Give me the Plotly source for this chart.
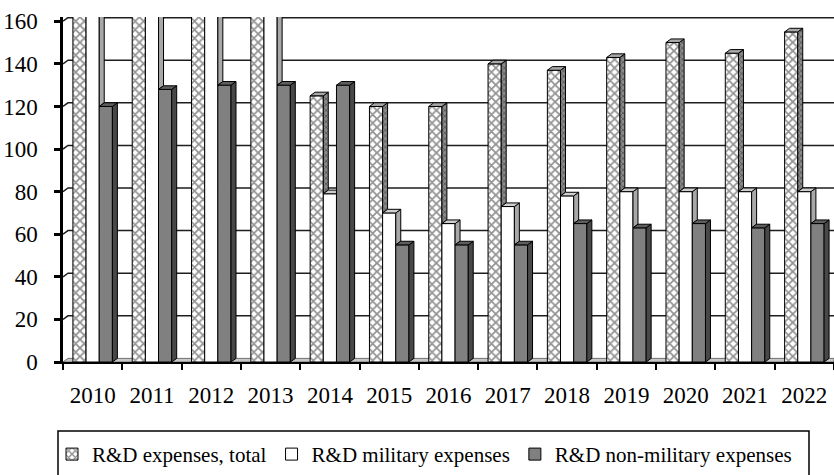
import plotly.graph_objects as go

# ---- data -------------------------------------------------------------
years = ["2010", "2011", "2012", "2013", "2014", "2015", "2016",
         "2017", "2018", "2019", "2020", "2021", "2022"]
total = [172, 178, 181, 176, 125, 120, 120, 140, 137, 143, 150, 145, 155]
military = [168, 170, 173, 171, 79, 70, 65, 73, 78, 80, 80, 80, 80]
non_military = [120, 128, 130, 130, 130, 55, 55, 55, 65, 63, 65, 63, 65]
series_names = ["R&D expenses, total", "R&D military expenses",
                "R&D non-military expenses"]
y_ticks = [0, 20, 40, 60, 80, 100, 120, 140, 160]

# ---- styling ----------------------------------------------------------
FONT = "Liberation Serif"
Y_TOP = 162            # a little head-room for the 3-D back wall
BAR_W = 0.222          # width of one front face, in category units
DX, DY = 0.084, 1.7    # depth offset of the 3-D faces (x units, y units)

front = ["white", "white", "#808080"]
side = ["#8a8a8a", "#a8a8a8", "#484848"]
top = ["#a8a8a8", "#cfcfcf", "#5e5e5e"]

series = [total, military, non_military]
n = len(years)
x_idx = list(range(n))
offsets = [-BAR_W, 0.0, BAR_W]

fig = go.Figure()

# front faces of the columns
for k, vals in enumerate(series):
    marker = dict(color=front[k], line=dict(color="black", width=1))
    if k == 0:
        marker["pattern"] = dict(shape="x", size=6, solidity=0.5,
                                 fgcolor="#262626", bgcolor="white")
    fig.add_trace(go.Bar(x=x_idx, y=vals, name=series_names[k],
                         marker=marker, hoverinfo="skip"))

# side and top faces, computed from the same values
for k, vals in enumerate(series):
    sx, sy, tx, ty = [], [], [], []
    for i in range(n):
        v = vals[i]
        xc = i + offsets[k]
        x0, x1 = xc - BAR_W / 2, xc + BAR_W / 2
        nxt = series[k + 1][i] if k < 2 else 0
        if nxt < v:
            sx += [x1, x1 + DX, x1 + DX, x1, x1, None]
            sy += [nxt, nxt + DY, v + DY, v, nxt, None]
            xr = x1 + DX
        else:
            xr = x1
        tx += [x0, x0 + DX, xr, x1, x0, None]
        ty += [v, v + DY, v + DY, v, v, None]
    side_kw = {}
    if k == 0:
        side_kw["fillpattern"] = dict(shape="x", size=4, solidity=0.4,
                                      fgcolor="#2a2a2a", bgcolor=side[k])
    fig.add_trace(go.Scatter(x=sx, y=sy, mode="lines", fill="toself",
                             fillcolor=side[k], line=dict(color="black", width=1),
                             showlegend=False, hoverinfo="skip", **side_kw))
    fig.add_trace(go.Scatter(x=tx, y=ty, mode="lines", fill="toself",
                             fillcolor=top[k], line=dict(color="black", width=1),
                             showlegend=False, hoverinfo="skip"))

# back-wall gridlines and the floor
x_lo, x_hi = -0.5, n - 0.5
shapes = []
shapes.append(dict(type="path", xref="x", yref="y", layer="below",
                   path=f"M {x_lo},0 L {x_lo + DX},{DY} L {x_hi},{DY} L {x_hi},0 Z",
                   fillcolor="#c8c8c8", line=dict(color="#707070", width=1)))
for v in y_ticks[1:]:
    shapes.append(dict(type="path", xref="x", yref="y", layer="below",
                       path=f"M {x_lo},{v} L {x_lo + DX},{v + DY} L {x_hi},{v + DY}",
                       line=dict(color="#1e1e1e", width=1.5)))

# legend frame
L, R, T, B = 63, 0, 17, 108
W, H = 834 - L - R, 475 - T - B
def px_x(p):
    return (p - L) / W
def px_y(p):
    return (475 - B - p) / H
shapes.append(dict(type="rect", xref="paper", yref="paper",
                   x0=px_x(58), x1=px_x(809), y0=px_y(437), y1=px_y(495),
                   line=dict(color="black", width=1.5), fillcolor="rgba(0,0,0,0)"))

fig.update_layout(
    width=834, height=475,
    margin=dict(l=L, r=R, t=T, b=B),
    paper_bgcolor="white", plot_bgcolor="white",
    barmode="group", bargap=1 - 3 * BAR_W, bargroupgap=0,
    font=dict(family=FONT, color="black"),
    shapes=shapes,
    legend=dict(orientation="h", x=px_x(52), xanchor="left",
                y=px_y(440), yanchor="top", font=dict(size=21, family=FONT),
                bgcolor="rgba(0,0,0,0)", borderwidth=0, itemwidth=30),
    xaxis=dict(range=[x_lo, x_hi], tickmode="array", tickvals=x_idx,
               ticktext=years, ticks="", showgrid=False, zeroline=False,
               showline=True, linecolor="black", linewidth=1.5,
               tickfont=dict(size=23, family=FONT), ticklabelstandoff=12,
               minor=dict(tickmode="array",
                          tickvals=[i - 0.5 for i in range(n + 1)],
                          ticks="outside", ticklen=6, tickwidth=1.5,
                          tickcolor="black", showgrid=False)),
    yaxis=dict(range=[0, Y_TOP], tickmode="array", tickvals=y_ticks,
               showgrid=False, zeroline=False, showline=True,
               linecolor="black", linewidth=2.5, ticks="outside", ticklen=6,
               tickwidth=2.5, tickcolor="black",
               tickfont=dict(size=23, family=FONT), ticklabelstandoff=12),
)

fig.write_html("out.html")
